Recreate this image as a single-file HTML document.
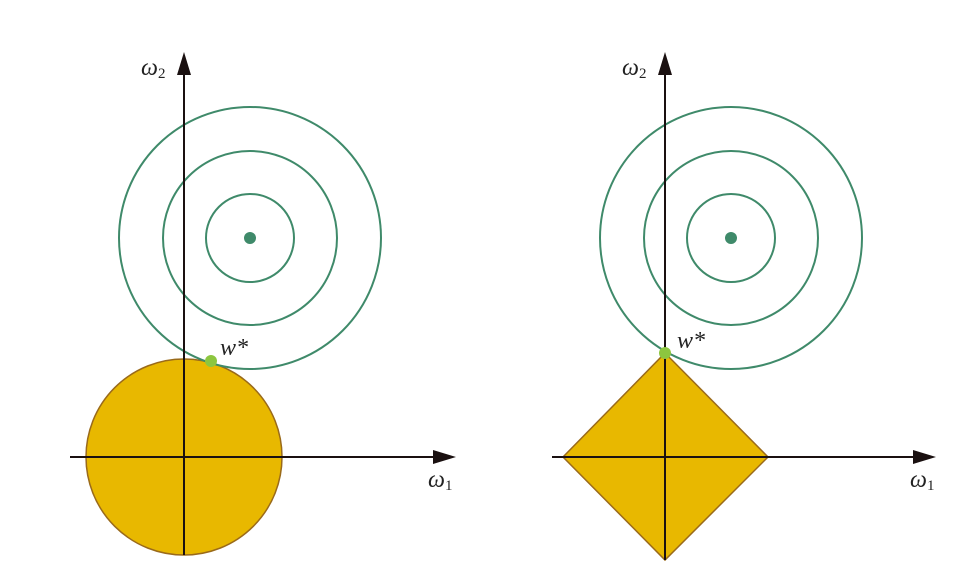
<!DOCTYPE html>
<html><head><meta charset="utf-8"><style>
html,body{margin:0;padding:0;background:#fff;}
svg{display:block;}
text{font-family:"Liberation Serif",serif;font-style:italic;fill:#222;}
</style></head><body>
<svg width="974" height="585" viewBox="0 0 974 585">
<script>
const contourRadii=[44,87,131];
</script>
<g>
  <circle cx="184" cy="457" r="98" fill="#e8b800" stroke="#9a6a1a" stroke-width="1.5"/>
  <g fill="none" stroke="#3f8a6a" stroke-width="2">
    <circle cx="250" cy="238" r="44"/>
    <circle cx="250" cy="238" r="87"/>
    <circle cx="250" cy="238" r="131"/>
  </g>
  <circle cx="250" cy="238" r="6" fill="#3f8a6a"/>
  <line x1="70" y1="457" x2="440" y2="457" stroke="#1a1010" stroke-width="2"/>
  <polygon points="456,457 433,450 433,464" fill="#1a1010"/>
  <line x1="184" y1="555" x2="184" y2="70" stroke="#1a1010" stroke-width="2"/>
  <polygon points="184,52 177,75 191,75" fill="#1a1010"/>
  <circle cx="211" cy="361" r="6" fill="#8cc63f"/>
  <text x="220" y="355" font-size="24">w*</text>
  <text x="141" y="75" font-size="24">ω<tspan font-size="15" font-style="normal" dy="3">2</tspan></text>
  <text x="428" y="487" font-size="24">ω<tspan font-size="15" font-style="normal" dy="3">1</tspan></text>
</g>
<g>
  <polygon points="665,353 768,457 665,560 563,457" fill="#e8b800" stroke="#9a6a1a" stroke-width="1.5"/>
  <g fill="none" stroke="#3f8a6a" stroke-width="2">
    <circle cx="731" cy="238" r="44"/>
    <circle cx="731" cy="238" r="87"/>
    <circle cx="731" cy="238" r="131"/>
  </g>
  <circle cx="731" cy="238" r="6" fill="#3f8a6a"/>
  <line x1="552" y1="457" x2="920" y2="457" stroke="#1a1010" stroke-width="2"/>
  <polygon points="936,457 913,450 913,464" fill="#1a1010"/>
  <line x1="665" y1="560" x2="665" y2="70" stroke="#1a1010" stroke-width="2"/>
  <polygon points="665,52 658,75 672,75" fill="#1a1010"/>
  <circle cx="665" cy="353" r="6" fill="#8cc63f"/>
  <text x="677" y="348" font-size="24">w*</text>
  <text x="622" y="75" font-size="24">ω<tspan font-size="15" font-style="normal" dy="3">2</tspan></text>
  <text x="910" y="487" font-size="24">ω<tspan font-size="15" font-style="normal" dy="3">1</tspan></text>
</g>
</svg>
</body></html>
